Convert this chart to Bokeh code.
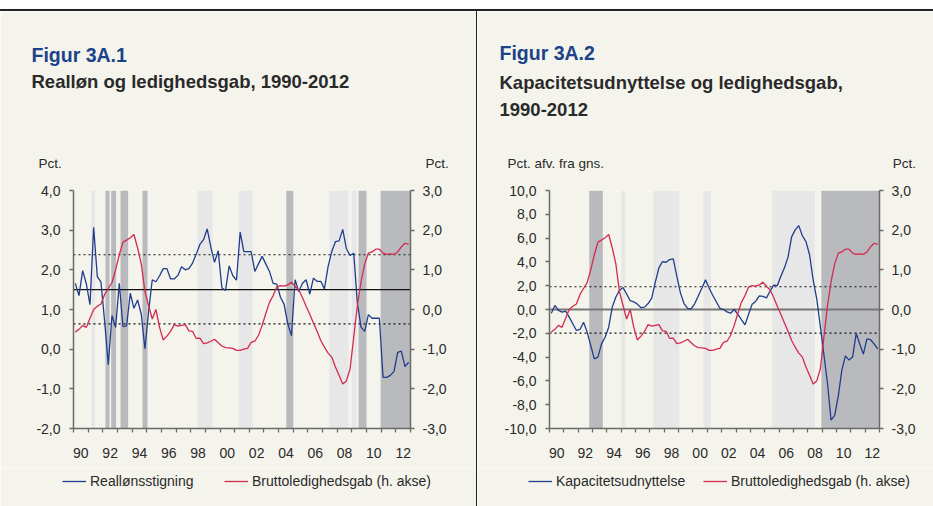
from bokeh.plotting import figure
from bokeh.models import (Range1d, LinearAxis, FixedTicker, CustomJSTickFormatter, Span,
                          Title, Legend, LegendItem, Div, BoxAnnotation)
from bokeh.layouts import row, column
from bokeh.embed import file_html
from bokeh.resources import INLINE

# ---------------- data ----------------
years = list(range(1990, 2013))          # 1990 .. 2012, quarterly observations
quarter_x = [y + 0.125 + 0.25 * q for y in years for q in range(4)]

real_wage = [  # Reallønsstigning (left axis, fig 3A.1)
    1.66, 1.35, 1.98, 1.65,
    1.12, 3.07, 1.83, 1.69,
    0.70, -0.39, 0.85, 0.55,
    1.66, 0.57, 0.59, 1.41,
    1.03, 1.24, 0.88, 0.01,
    0.95, 1.75, 1.70, 1.85,
    2.03, 2.03, 1.77, 1.77,
    1.86, 2.08, 2.00, 2.03,
    2.17, 2.39, 2.64, 2.76,
    3.03, 2.57, 2.19, 2.48,
    1.55, 1.48, 2.10, 1.85,
    1.74, 2.95, 2.46, 2.46,
    2.46, 1.96, 2.15, 2.34,
    2.15, 1.96, 1.66, 1.64,
    1.31, 1.13, 0.64, 0.34,
    1.75, 1.45, 1.66, 1.75,
    1.39, 1.79, 1.71, 1.71,
    1.52, 2.08, 2.46, 2.71,
    2.73, 3.02, 2.53, 2.36,
    2.42, 1.16, 0.55, 0.45,
    0.87, 0.78, 0.78, 0.78,
    -0.71, -0.71, -0.66, -0.56,
    -0.08, -0.05, -0.44, -0.33,
]

unemp_gap = [  # Bruttoledighedsgab (right axis, both figures)
    -0.57, -0.50, -0.40, -0.45,
    -0.22, 0.00, 0.08, 0.14,
    0.38, 0.53, 0.68, 1.00,
    1.38, 1.70, 1.75, 1.81,
    1.89, 1.55, 1.15, 0.45,
    0.10, -0.24, 0.00, -0.45,
    -0.77, -0.67, -0.55, -0.38,
    -0.42, -0.40, -0.38, -0.54,
    -0.55, -0.73, -0.72, -0.86,
    -0.84, -0.80, -0.75, -0.84,
    -0.92, -0.96, -0.97, -0.98,
    -1.03, -1.03, -1.00, -0.98,
    -0.83, -0.80, -0.65, -0.40,
    -0.10, 0.18, 0.35, 0.57,
    0.60, 0.59, 0.62, 0.69,
    0.58, 0.50, 0.30, 0.08,
    -0.12, -0.34, -0.55, -0.78,
    -0.95, -1.10, -1.20, -1.45,
    -1.66, -1.88, -1.80, -1.50,
    -0.70, 0.10, 0.70, 1.15,
    1.42, 1.45, 1.52, 1.52,
    1.42, 1.39, 1.40, 1.39,
    1.45, 1.58, 1.67, 1.64,
]

capacity = [  # Kapacitetsudnyttelse (left axis, fig 3A.2)
    -0.31, 0.34, -0.08, -0.22,
    -0.14, -0.64, -1.20, -1.76,
    -1.68, -1.07, -1.90, -3.03,
    -4.15, -4.00, -2.89, -2.33,
    -1.49, 0.20, 1.05, 1.60,
    1.85, 1.30, 0.75, 0.65,
    0.45, 0.15, 0.20, 0.50,
    0.95, 2.30, 3.50, 4.03,
    3.97, 4.20, 4.26, 2.80,
    1.40, 0.50, 0.10, 0.06,
    0.50, 1.15, 1.80, 2.49,
    1.80, 1.20, 0.65, 0.10,
    0.00, -0.20, -0.31, 0.00,
    -0.40, -0.85, -1.29, -0.40,
    0.45, 0.70, 1.15, 1.10,
    0.98, 1.55, 2.05, 2.00,
    2.80, 3.50, 4.40, 6.10,
    6.69, 7.05, 6.20, 5.70,
    4.60, 2.50, 0.90, -1.40,
    -3.80, -6.20, -9.30, -8.90,
    -7.30, -5.10, -3.90, -4.25,
    -4.00, -2.00, -2.90, -3.75,
    -2.46, -2.54, -2.89, -3.31,
]

# shaded periods (start, end, kind)
bands1_start = [1991.22, 1992.18, 1992.57, 1993.21, 1994.71, 1998.46, 2001.26, 2004.52, 2007.47, 2008.98, 2009.45, 2010.96]
bands1_end   = [1991.48, 1992.46, 1992.91, 1993.73, 1995.05, 1999.49, 2002.22, 2005.00, 2008.77, 2009.32, 2010.00, 2013.00]
bands1_kind  = ["light", "dark", "dark", "dark", "dark", "light", "light", "dark", "light", "light", "dark", "dark"]

bands2_start = [1992.77, 1995.00, 1997.23, 2000.73, 2005.52, 2008.95]
bands2_end   = [1993.72, 1995.28, 1999.04, 2001.25, 2008.50, 2013.00]
bands2_kind  = ["dark", "light", "light", "light", "light", "dark"]

# reference lines (mean and +/- 1 std)
wage_mean, wage_bands = 1.50, [2.38, 0.64]
cap_mean, cap_bands = 0.0, [1.91, -1.99]

left1_ticks = [-2, -1, 0, 1, 2, 3, 4]
left2_ticks = [-10, -8, -6, -4, -2, 0, 2, 4, 6, 8, 10]
right_ticks = [-3, -2, -1, 0, 1, 2, 3]
label_years = [1990, 1992, 1994, 1996, 1998, 2000, 2002, 2004, 2006, 2008, 2010, 2012]
boundary_years = list(range(1990, 2014))

# ---------------- styling ----------------
BG = "#f5f4ec"
BLUE = "#1f3d8c"
RED = "#d42a50"
TITLE_BLUE = "#1c428a"
TXT = "#2a2a2a"
AX = "#6a6a6a"
LIGHT = "#e7e7e7"
DARK = "#b9babe"
FONT = "Liberation Sans"
NBSP = "\u00a0"

num_fmt = CustomJSTickFormatter(code="return tick.toFixed(1).replace('.', ',');")
year_fmt = CustomJSTickFormatter(code="return String(Math.floor(tick) % 100).padStart(2, '0');")


def style_axis(ax):
    ax.axis_line_color = AX
    ax.axis_line_width = 1.5
    ax.major_tick_line_color = AX
    ax.major_tick_line_width = 1.3
    ax.minor_tick_line_color = AX
    ax.minor_tick_line_width = 1.3
    ax.major_label_text_font = FONT
    ax.major_label_text_font_size = "14px"
    ax.major_label_text_color = TXT


def add_title(p, text, size, bold, color, offset, standoff):
    p.add_layout(Title(text=text, align="left", offset=offset, standoff=standoff,
                       text_font=FONT, text_font_size=size,
                       text_font_style="bold" if bold else "normal", text_color=color), "above")


def make_panel(fw, border_left, border_right, ylim, left_ticks, blue_vals, bands, ref_mean,
               ref_bands, ref_style, title, subtitle_lines, sub_standoffs, unit_row, spacer):
    p = figure(frame_width=fw, frame_height=238, output_backend="svg", toolbar_location=None,
               title=None, x_range=Range1d(1990, 2013), y_range=Range1d(*ylim),
               min_border_left=border_left, min_border_right=border_right,
               min_border_top=179, min_border_bottom=40,
               background_fill_color=BG, border_fill_color=BG, outline_line_color=None)
    p.xgrid.visible = False
    p.ygrid.visible = False
    p.extra_y_ranges = {"right": Range1d(right_ticks[0], right_ticks[-1])}

    xa = p.xaxis[0]
    xa.ticker = FixedTicker(ticks=[y + 0.5 for y in label_years], minor_ticks=boundary_years)
    xa.formatter = year_fmt
    style_axis(xa)
    xa.major_tick_out = 0
    xa.major_tick_in = 0
    xa.minor_tick_out = 4
    xa.minor_tick_in = 0
    xa.major_label_standoff = 15

    ya = p.yaxis[0]
    ya.ticker = FixedTicker(ticks=left_ticks)
    ya.formatter = num_fmt
    style_axis(ya)
    ya.major_tick_out = 4
    ya.major_tick_in = 0
    ya.major_label_standoff = 9

    ra = LinearAxis(y_range_name="right", ticker=FixedTicker(ticks=right_ticks), formatter=num_fmt)
    style_axis(ra)
    ra.major_tick_out = 4
    ra.major_tick_in = 0
    ra.major_label_standoff = 8
    p.add_layout(ra, "right")

    for s, e, k in zip(*bands):
        p.add_layout(BoxAnnotation(left=s, right=e, fill_color=LIGHT if k == "light" else DARK,
                                   fill_alpha=1, line_color=None, level="underlay"))
    sc, sw = ref_style
    p.add_layout(Span(location=ref_mean, dimension="width", line_color=sc, line_width=sw,
                      level="underlay"))
    for v in ref_bands:
        p.add_layout(Span(location=v, dimension="width", line_color="#111", line_width=1.2,
                          line_dash="2 3", level="underlay"))

    p.line(quarter_x, blue_vals, line_color=BLUE, line_width=1.3)
    p.line(quarter_x, unemp_gap, line_color=RED, line_width=1.3, y_range_name="right")

    # titles stacked above the frame (first added = closest to the frame)
    unit_text, unit_offset, n_gap = unit_row
    add_title(p, unit_text + NBSP * n_gap + "Pct.", "13.5px", False, TXT, unit_offset, 40)
    add_title(p, NBSP, "1px", False, BG, 0, spacer)
    for line, so in zip(reversed(subtitle_lines), sub_standoffs):
        add_title(p, line, "18.5px", True, TXT, title[1], so)
    add_title(p, title[0], "19.5px", True, TITLE_BLUE, title[1], title[2])
    return p


def make_legend_strip(width, entries):
    # the series are drawn here outside the visible range; only their legend samples show
    lp = figure(width=width, height=38, output_backend="svg", toolbar_location=None,
                title=None, x_axis_location=None, y_axis_location=None,
                x_range=Range1d(0, 1), y_range=Range1d(0, 1), min_border=0,
                background_fill_color=BG, border_fill_color=BG, outline_line_color=None)
    lp.xgrid.visible = False
    lp.ygrid.visible = False
    for label, vals, color, xpos in entries:
        r = lp.line(quarter_x, vals, line_color=color, line_width=1.3)
        lp.add_layout(Legend(items=[LegendItem(label=label, renderers=[r])], location=(xpos, 17),
                             orientation="horizontal", background_fill_alpha=0,
                             border_line_color=None, padding=0, margin=0,
                             glyph_width=24, glyph_height=16, label_height=16, label_standoff=4,
                             label_text_font=FONT, label_text_font_size="14px",
                             label_text_color=TXT))
    return lp


p1 = make_panel(337, 73, 66, (left1_ticks[0], left1_ticks[-1]), left1_ticks, real_wage,
                (bands1_start, bands1_end, bands1_kind), wage_mean, wage_bands, ("#111", 1.2),
                ("Figur 3A.1", -42, 2), ["Realløn og ledighedsgab, 1990-2012"], [4],
                ("Pct.", -35, 97), 37)

p2 = make_panel(330, 72, 54, (left2_ticks[0], left2_ticks[-1]), left2_ticks, capacity,
                (bands2_start, bands2_end, bands2_kind), cap_mean, cap_bands, ("#777777", 2.2),
                ("Figur 3A.2", -50, 0), ["Kapacitetsudnyttelse og ledighedsgab,", "1990-2012"],
                [4, 12], ("Pct. afv. fra gns.", -42, 77), 13)

leg1 = make_legend_strip(476, [("Reallønsstigning", real_wage, BLUE, 62),
                               ("Bruttoledighedsgab (h. akse)", unemp_gap, RED, 224)])
leg2 = make_legend_strip(456, [("Kapacitetsudnyttelse", capacity, BLUE, 51),
                               ("Bruttoledighedsgab (h. akse)", unemp_gap, RED, 226)])

top_line = Div(text="", width=933, height=2, margin=(9, 0, 0, 0),
               styles={"background-color": "#222"})
divider = Div(text="", width=1, height=457, margin=0, styles={"background-color": "#222"})
divider2 = Div(text="", width=1, height=38, margin=0, styles={"background-color": "#222"})

layout = column(top_line, row(p1, divider, p2, spacing=0), row(leg1, divider2, leg2, spacing=0),
                spacing=0)
open("out.html", "w").write(file_html(layout, INLINE))
